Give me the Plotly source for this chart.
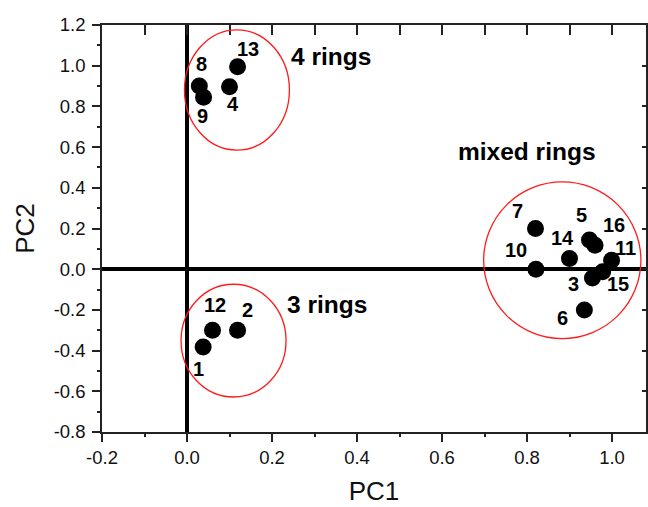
import plotly.graph_objects as go

# ---- data ----
ids = [str(i) for i in range(1, 17)]
pc1 = [0.038, 0.119, 0.954, 0.100, 0.947, 0.935, 0.820, 0.029,
       0.039, 0.821, 0.999, 0.060, 0.119, 0.900, 0.978, 0.960]
pc2 = [-0.382, -0.300, -0.043, 0.897, 0.143, -0.200, 0.200, 0.900,
       0.845, 0.000, 0.044, -0.300, 0.995, 0.053, -0.013, 0.118]

# label offsets (pixels, dx right, dy down)
label_dx = [-5, 10, -19, 3, -8, -22, -18, 2, -1, -20, 14, 2, 10, -7, 15, 19]
label_dy = [22, -20, 6, 17, -25, 8, -18, -22, 19, -19, -12, -25, -18, -20, 12, -20]

group_names = ["4 rings", "mixed rings", "3 rings"]
group_x0 = [-0.006, 0.698, -0.014]
group_x1 = [0.241, 1.068, 0.233]
group_y0 = [0.585, -0.341, -0.628]
group_y1 = [1.176, 0.429, -0.074]
group_text_x = [0.339, 0.801, 0.330]
group_text_y = [1.044, 0.577, -0.172]

x_ticks = [-0.2, 0.0, 0.2, 0.4, 0.6, 0.8, 1.0]
x_ticktext = ["-0.2", "0.0", "0.2", "0.4", "0.6", "0.8", "1.0"]
y_ticks = [-0.8, -0.6, -0.4, -0.2, 0.0, 0.2, 0.4, 0.6, 0.8, 1.0, 1.2]
y_ticktext = ["-0.8", "-0.6", "-0.4", "-0.2", "0.0", "0.2", "0.4", "0.6", "0.8", "1.0", "1.2"]

FONT = "Liberation Sans, Arial, Helvetica, sans-serif"
XR = [-0.2, 1.08]
YR = [-0.8, 1.2]

fig = go.Figure()
fig.add_trace(go.Scatter(
    x=pc1, y=pc2, mode="markers",
    marker=dict(color="black", size=17, line=dict(width=0)),
    hoverinfo="skip", showlegend=False,
))
# empty trace to register top/right overlay axes
fig.add_trace(go.Scatter(x=[None], y=[None], xaxis="x2", yaxis="y2",
                         mode="markers", showlegend=False, hoverinfo="skip"))

for i, t in enumerate(ids):
    fig.add_annotation(x=pc1[i], y=pc2[i], text="<b>%s</b>" % t, showarrow=False,
                       xshift=label_dx[i], yshift=-label_dy[i],
                       font=dict(family=FONT, size=20, color="black"))

for i, g in enumerate(group_names):
    fig.add_shape(type="circle", xref="x", yref="y",
                  x0=group_x0[i], x1=group_x1[i], y0=group_y0[i], y1=group_y1[i],
                  line=dict(color="#ff1a1a", width=1.3))
    fig.add_annotation(x=group_text_x[i], y=group_text_y[i], text="<b>%s</b>" % g,
                       showarrow=False,
                       font=dict(family=FONT, size=24.5, color="black"))

axis_common = dict(showgrid=False, showline=True, linecolor="#222", linewidth=1.5,
                   zeroline=True, zerolinecolor="black", zerolinewidth=3.5,
                   ticks="outside", ticklen=8, tickwidth=1.5, tickcolor="#222",
                   tickfont=dict(family=FONT, size=18.5, color="#111"),
                   minor=dict(ticks="outside", ticklen=3, tickwidth=1.5, dtick=0.1,
                              tickcolor="#222"))

fig.update_layout(
    width=648, height=507,
    margin=dict(l=102, r=2, t=25, b=75),
    paper_bgcolor="white", plot_bgcolor="white",
    xaxis=dict(range=XR, tickvals=x_ticks, ticktext=x_ticktext,
               title=dict(text="PC1", font=dict(family=FONT, size=26, color="#111"),
                          standoff=15),
               **axis_common),
    yaxis=dict(range=YR, tickvals=y_ticks, ticktext=y_ticktext,
               ticklabelstandoff=3,
               title=dict(text="PC2", font=dict(family=FONT, size=26, color="#111"),
                          standoff=12),
               **axis_common),
    xaxis2=dict(range=XR, overlaying="x", side="top", anchor="y2",
                showgrid=False, zeroline=False, showline=True, linecolor="#222",
                linewidth=1.5, ticks="inside", ticklen=10, tickwidth=1.5,
                tickcolor="#222", dtick=0.1, tick0=0, showticklabels=False),
    yaxis2=dict(range=YR, overlaying="y", side="right", anchor="x2",
                showgrid=False, zeroline=False, showline=True, linecolor="#222",
                linewidth=1.5, ticks="inside", ticklen=4, tickwidth=1.5,
                tickcolor="#222", dtick=0.2, tick0=0, showticklabels=False),
)

fig.write_html("out.html")
